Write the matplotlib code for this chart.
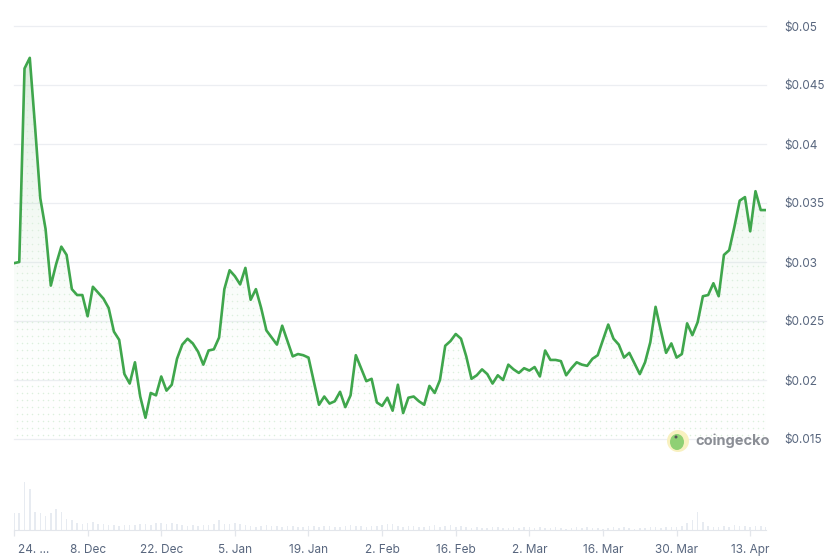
import numpy as np
import pandas as pd
import matplotlib
matplotlib.use("Agg")
import matplotlib.pyplot as plt
import matplotlib.dates as mdates
from matplotlib.patches import Ellipse, Polygon
from matplotlib.transforms import offset_copy

plt.rcParams['font.family'] = ['Inter', 'DejaVu Sans']

# daily price (USD), 24 Nov -> 16 Apr
price = [0.0299, 0.0300, 0.0464, 0.0473, 0.0415, 0.0354, 0.0328, 0.0280, 0.0298, 0.0313,
         0.0306, 0.0277, 0.0272, 0.0272, 0.0254, 0.0279, 0.0274, 0.0269, 0.0261, 0.0241,
         0.0234, 0.0205, 0.0197, 0.0215, 0.0186, 0.0168, 0.0189, 0.0187, 0.0203, 0.0191,
         0.0196, 0.0218, 0.0230, 0.0235, 0.0231, 0.0224, 0.0213, 0.0225, 0.0226, 0.0236,
         0.0277, 0.0293, 0.0288, 0.0281, 0.0295, 0.0268, 0.0277, 0.0261, 0.0242, 0.0236,
         0.0230, 0.0246, 0.0233, 0.0220, 0.0222, 0.0221, 0.0219, 0.0199, 0.0179, 0.0186,
         0.0180, 0.0182, 0.0190, 0.0177, 0.0187, 0.0221, 0.0210, 0.0199, 0.0201, 0.0181,
         0.0178, 0.0185, 0.0174, 0.0196, 0.0172, 0.0185, 0.0186, 0.0182, 0.0179, 0.0195,
         0.0189, 0.0200, 0.0229, 0.0233, 0.0239, 0.0235, 0.0220, 0.0201, 0.0204, 0.0209,
         0.0205, 0.0197, 0.0204, 0.0200, 0.0213, 0.0209, 0.0206, 0.0210, 0.0208, 0.0211,
         0.0203, 0.0225, 0.0217, 0.0217, 0.0216, 0.0204, 0.0210, 0.0215, 0.0213, 0.0212,
         0.0218, 0.0221, 0.0234, 0.0247, 0.0235, 0.0230, 0.0219, 0.0223, 0.0214, 0.0205,
         0.0215, 0.0232, 0.0262, 0.0242, 0.0223, 0.0231, 0.0219, 0.0222, 0.0248, 0.0238,
         0.0249, 0.0271, 0.0272, 0.0282, 0.0271, 0.0306, 0.0310, 0.0330, 0.0352, 0.0355,
         0.0326, 0.0360, 0.0344, 0.0344]

# daily volume (relative units)
volume = [17, 17, 48, 41, 18, 17, 14, 17, 21, 18,
          11, 10, 7, 6, 7, 8, 6, 6, 5, 5,
          4, 5, 5, 5, 6, 6, 5, 7, 7, 6,
          7, 6, 5, 4, 5, 4, 5, 5, 6, 10,
          6, 6, 7, 6, 5, 4, 3, 4, 5, 4,
          4, 3, 4, 4, 3, 3, 4, 4, 3, 4,
          4, 3, 3, 4, 5, 4, 4, 3, 4, 4,
          5, 6, 6, 4, 3, 4, 4, 3, 3, 4,
          5, 3, 4, 5, 3, 4, 3, 2, 3, 2,
          2, 3, 3, 2, 2, 3, 2, 3, 3, 2,
          3, 2, 2, 3, 2, 1, 2, 3, 2, 3,
          2, 2, 1, 2, 3, 2, 3, 2, 1, 2,
          2, 3, 3, 2, 3, 3, 3, 4, 7, 10,
          18, 8, 4, 3, 3, 4, 3, 5, 4, 4,
          3, 4, 4, 3]

dates = pd.date_range('2024-11-24', periods=len(price), freq='D')
tick_dates = pd.date_range('2024-11-24', '2025-04-13', freq='14D')
tick_labels = ['24. ...', '8. Dec', '22. Dec', '5. Jan', '19. Jan', '2. Feb',
               '16. Feb', '2. Mar', '16. Mar', '30. Mar', '13. Apr']
y_ticks = [0.015, 0.02, 0.025, 0.03, 0.035, 0.04, 0.045, 0.05]
y_labels = ['$0.015', '$0.02', '$0.025', '$0.03', '$0.035', '$0.04', '$0.045', '$0.05']

W, H = 838, 558
fig = plt.figure(figsize=(W / 100, H / 100), dpi=100)
fig.patch.set_facecolor('white')

def box(x0, y0, x1, y1):
    return [x0 / W, 1 - y1 / H, (x1 - x0) / W, (y1 - y0) / H]

green = '#3fa64c'
text_col = '#58667e'
grid_col = '#eceef2'

ax = fig.add_axes(box(14, 26, 766, 439))
x = mdates.date2num(dates)
ax.set_xlim(x[0], x[-1])
ax.set_ylim(0.015, 0.05)

for yt in y_ticks:
    ax.axhline(yt, color=grid_col, lw=0.9, zorder=0, clip_on=False)

# gradient fill under the line
poly_xy = np.column_stack([np.r_[x[0], x, x[-1]], np.r_[0.015, price, 0.015]])
clip = Polygon(poly_xy, closed=True, facecolor='none', edgecolor='none')
ax.add_patch(clip)
grad = np.linspace(0, 1, 256).reshape(-1, 1)
cmap = matplotlib.colors.LinearSegmentedColormap.from_list(
    'g', [(1, 1, 1, 0), (0.30, 0.68, 0.35, 0.20)])
im = ax.imshow(grad, extent=[x[0], x[-1], 0.015, max(price)], origin='lower',
               aspect='auto', cmap=cmap, zorder=1)
im.set_clip_path(clip)

# dotted texture
dx = np.arange(x[0] + 0.5, x[-1], 1.0)
dy = np.arange(0.0153, 0.048, 0.0006)
gx, gy = np.meshgrid(dx, dy)
dots = ax.scatter(gx.ravel(), gy.ravel(), s=1.2, color='#dcefdd', lw=0, zorder=1.5)
dots.set_clip_path(clip)

ax.plot(x, price, color=green, lw=1.9, zorder=3)

ax.set_yticks(y_ticks)
ax.set_yticklabels(y_labels)
ax.yaxis.tick_right()
ax.tick_params(axis='y', length=0, pad=13, labelsize=8.5, labelcolor=text_col)
ax.set_xticks([])
for s in ax.spines.values():
    s.set_visible(False)

# volume bars
vax = fig.add_axes(box(14, 470, 766, 530))
vax.bar(x, volume, width=0.3, color='#e7ebf1', zorder=2)
vax.set_xlim(ax.get_xlim())
vax.set_ylim(0, 60)
vax.set_yticks([])
vax.set_xticks(mdates.date2num(tick_dates))
vax.set_xticklabels(tick_labels)
vax.tick_params(axis='x', length=4, width=0.9, color='#e3e6eb', pad=6,
                labelsize=8.5, labelcolor=text_col)
first = vax.get_xticklabels()[0]
first.set_horizontalalignment('left')
first.set_transform(offset_copy(first.get_transform(), fig=fig, x=4, units='dots'))
for k, s in vax.spines.items():
    s.set_visible(k == 'bottom')
vax.spines['bottom'].set_color('#e3e6eb')
vax.patch.set_alpha(0)

# coingecko watermark
fig.patches.append(Ellipse((678 / W, 1 - 441 / H), 22 / W, 22 / H,
                           transform=fig.transFigure, facecolor='#f8f1c0',
                           edgecolor='none', zorder=5))
fig.patches.append(Ellipse((677 / W, 1 - 442 / H), 14 / W, 16 / H,
                           transform=fig.transFigure, facecolor='#8fd074',
                           edgecolor='none', zorder=6))
fig.patches.append(Ellipse((676 / W, 1 - 437 / H), 3 / W, 3 / H,
                           transform=fig.transFigure, facecolor='#555555',
                           edgecolor='none', zorder=7))
fig.text(695 / W, 1 - 441 / H, 'coingecko', fontsize=10.5, fontweight='bold',
         color='#8b8e95', va='center', ha='left')

fig.savefig('out.png', dpi=100, facecolor='white')
